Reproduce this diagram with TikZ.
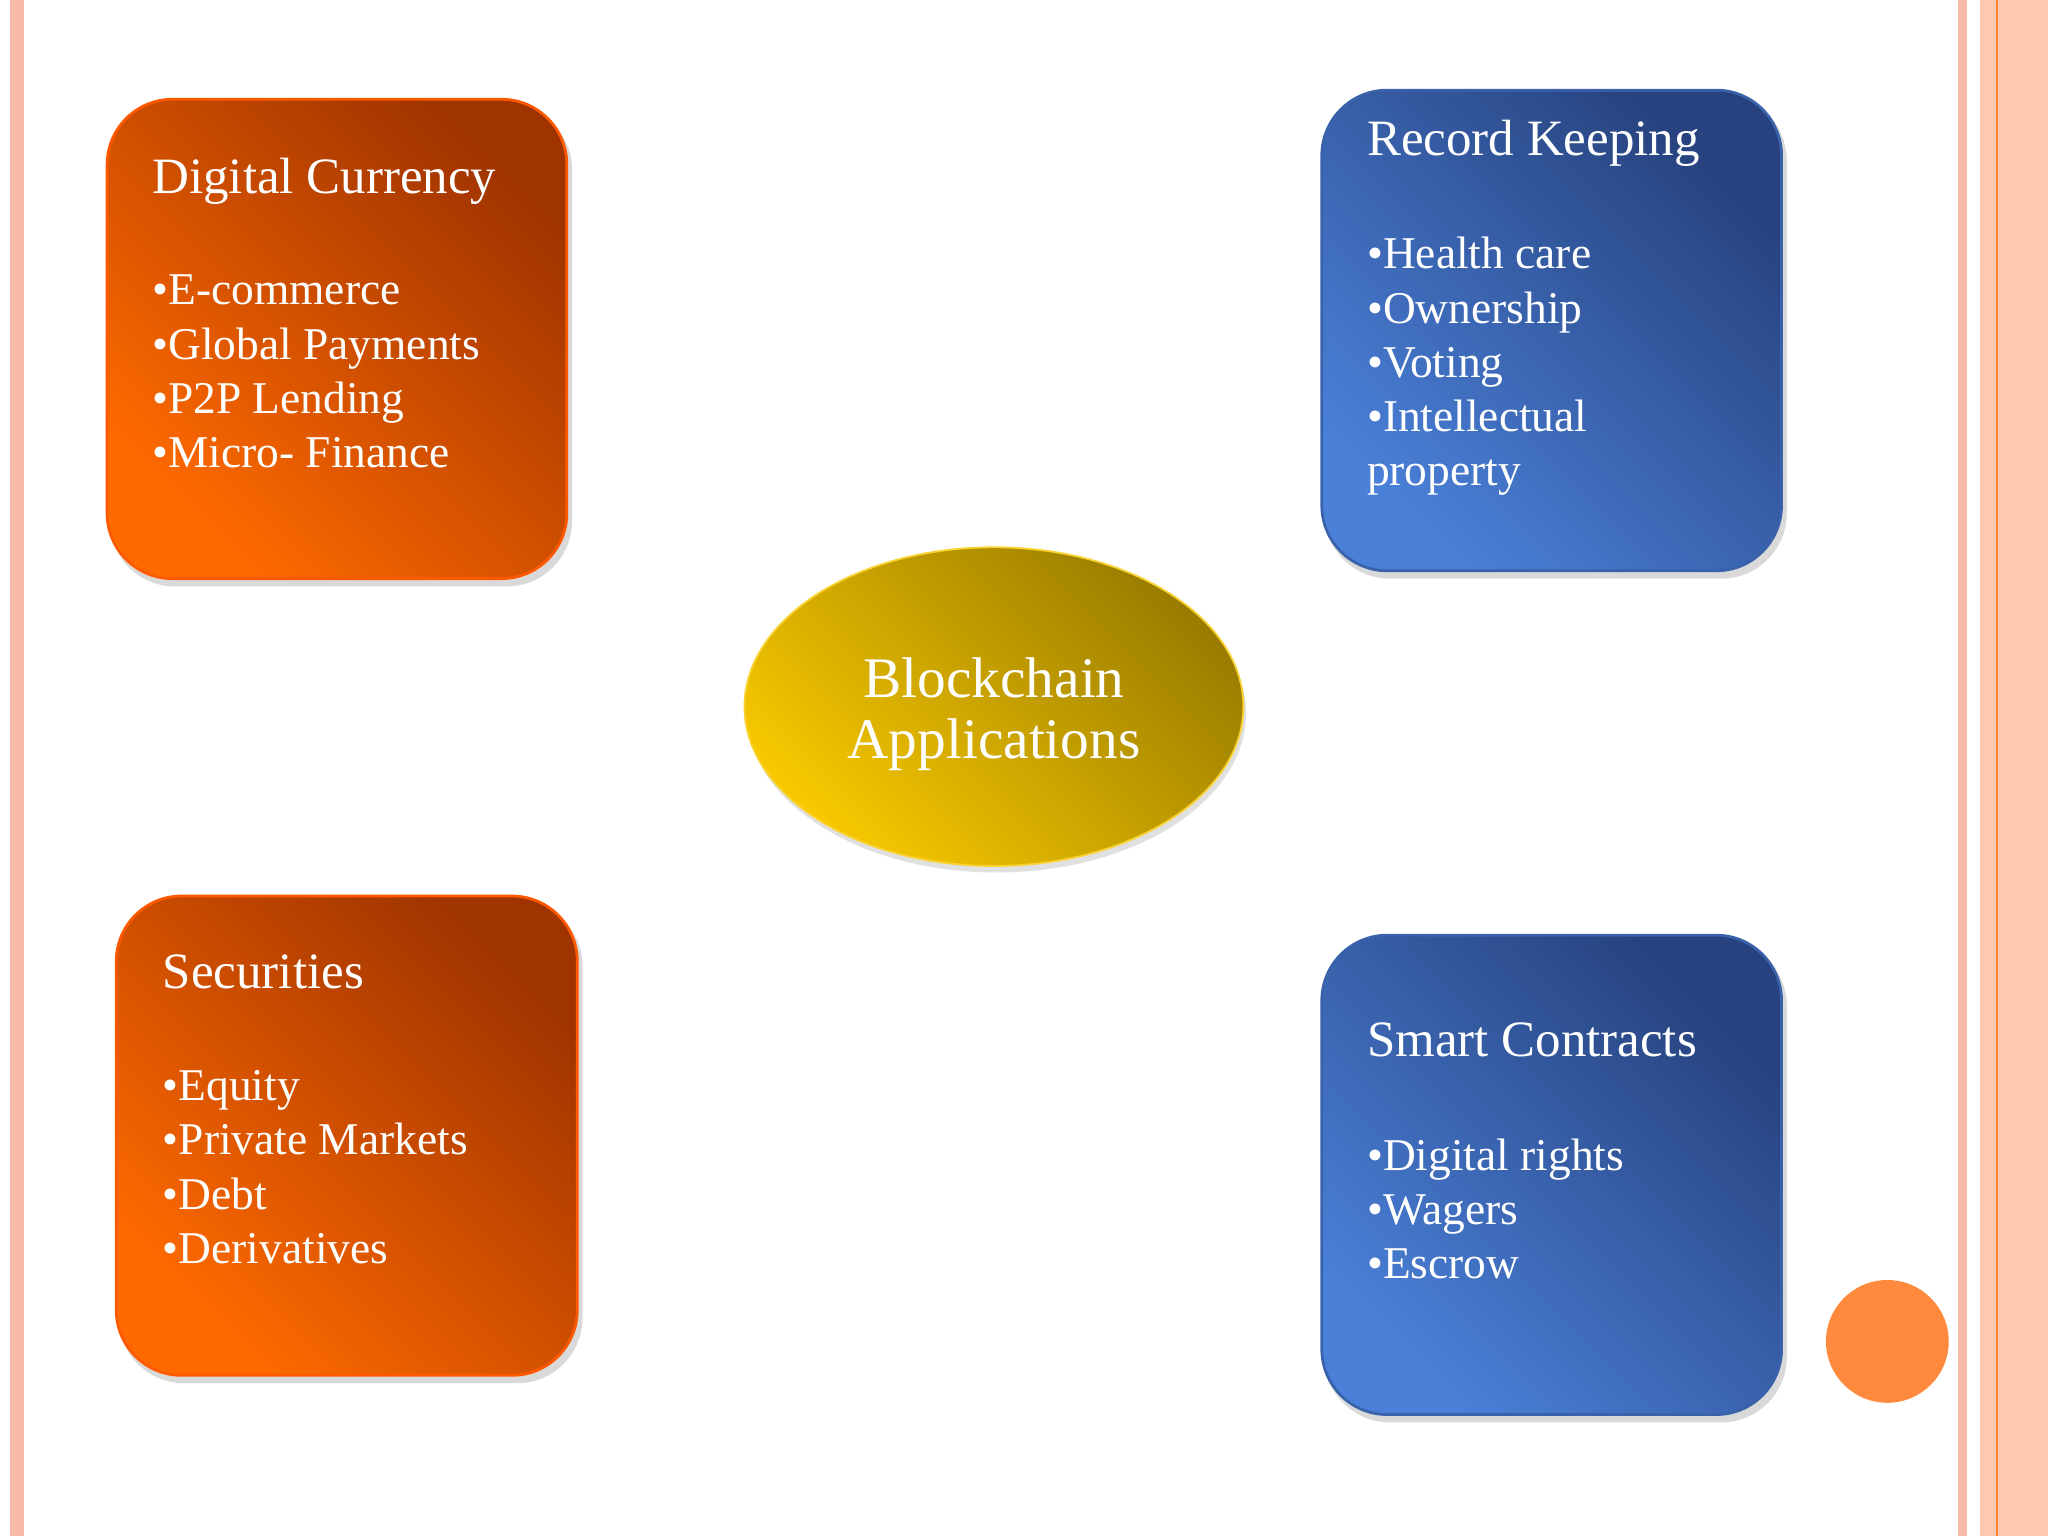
\documentclass[tikz,border=0pt]{standalone}
\usepackage{fontspec}
\setmainfont{Liberation Serif}
\begin{document}
\begin{tikzpicture}[x=0.1mm,y=-0.1mm,
  boxo/.style={rounded corners=5mm, draw=orange!70!red, line width=0.6pt, top color=orangeD, bottom color=orangeL, shading angle=-45},
  boxb/.style={rounded corners=5mm, draw=blueE, line width=0.6pt, top color=blueD, bottom color=blueL, shading angle=-45},
  shad/.style={rounded corners=5mm, fill=black, opacity=0.15},
  ttl/.style={anchor=base west, text=white, font=\fontsize{11.1}{13}\selectfont, inner sep=0},
  lst/.style={anchor=north west, text=white, font=\fontsize{9.9}{11.8}\selectfont, inner sep=0, align=left}]
\definecolor{orangeD}{HTML}{A03400}
\definecolor{orangeL}{HTML}{FF6A00}
\definecolor{blueD}{HTML}{27427E}
\definecolor{blueL}{HTML}{4A80D8}
\definecolor{blueE}{HTML}{3A62AA}
\definecolor{peach}{HTML}{FDC8B0}
\definecolor{pinkS}{HTML}{F8BBA8}
\definecolor{goldD}{HTML}{9A7D00}
\definecolor{goldL}{HTML}{F8C800}
\definecolor{dotC}{HTML}{FF8A3D}
\useasboundingbox (0,0) rectangle (1568,1176);
\fill[white] (0,0) rectangle (1568,1176);
% borders
\fill[pinkS] (8,0) rectangle (18,1176);
\fill[pinkS] (1499,0) rectangle (1506,1176);
\fill[peach] (1516,0) rectangle (1568,1176);
\fill[orange!80!red!80] (1528,0) rectangle (1530,1176);
% shadows
\fill[shad] (84,80) rectangle (438,449);
\fill[shad] (1014,73) rectangle (1368,443);
\fill[shad] (91,690) rectangle (446,1059);
\fill[shad] (1014,720) rectangle (1368,1089);
\fill[black,opacity=0.12] (763,546) ellipse [x radius=191, y radius=122];
% boxes
\path[boxo] (82,76) rectangle (434,443);
\path[boxb] (1012,69) rectangle (1364,437);
\path[boxo] (89,686) rectangle (442,1053);
\path[boxb] (1012,716) rectangle (1364,1083);
\shade[top color=goldD, bottom color=goldL, shading angle=-45, draw=goldL!80!white] (761,541) ellipse [x radius=191, y radius=122];
% texts
\node[ttl] (t1) at (116,148) {Digital Currency};
\node[lst] (l1) at (116,210) {\textbullet E-commerce\\\textbullet Global Payments\\\textbullet P2P Lending\\\textbullet Micro- Finance};
\node[ttl] (t2) at (1046,119) {Record Keeping};
\node[lst] (l2) at (1046,181) {\textbullet Health care\\\textbullet Ownership\\\textbullet Voting\\\textbullet Intellectual\\property};
\node[ttl] (t3) at (124,757) {Securities};
\node[lst] (l3) at (124,819) {\textbullet Equity\\\textbullet Private Markets\\\textbullet Debt\\\textbullet Derivatives};
\node[ttl] (t4) at (1046,809) {Smart Contracts};
\node[lst] (l4) at (1046,871) {\textbullet Digital rights\\\textbullet Wagers\\\textbullet Escrow};
\node[text=white, font=\fontsize{12.5}{13.3}\selectfont, align=center] (c) at (761,547) {Blockchain\\Applications};
% circle
\fill[dotC] (1445,1027) circle [radius=47];
\end{tikzpicture}
\end{document}
